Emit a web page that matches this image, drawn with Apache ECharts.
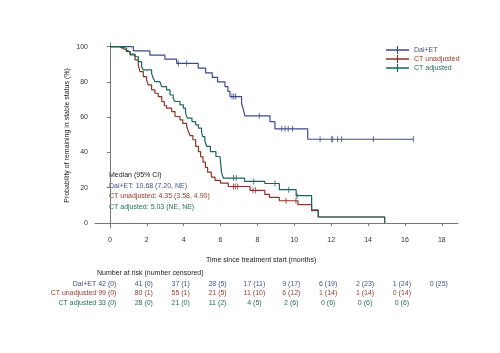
<!DOCTYPE html>
<html>
<head>
<meta charset="utf-8">
<script src="https://cdn.jsdelivr.net/npm/echarts@6/dist/echarts.min.js"></script>
<style>
  html, body { margin: 0; padding: 0; background: #fff; }
  #chart { width: 500px; height: 353px; }
</style>
</head>
<body>
<div id="chart"></div>
<script>
// Kaplan-Meier curves (time in months, % in stable status)
const seriesNames = ['Dal+ET', 'CT unadjusted', 'CT adjusted'];
const lineColors = ['#3e4b8a', '#8c3526', '#1c6457'];
const textColors = ['#44508f', '#963a2a', '#266c5f'];

const dalTimes = [0, 1.27, 2.17, 2.98, 3.62, 4.79, 5.19, 5.55, 5.84, 6.24, 6.4, 6.51, 7.14, 7.24, 7.32, 8.68, 8.95, 10.73, 16.46];
const dalSurv = [100, 97.6, 95.2, 92.9, 90.5, 87.9, 85.2, 82.6, 80.0, 77.4, 74.7, 71.7, 67.9, 64.2, 60.8, 57.5, 53.4, 47.5, 47.5];
const dalCensor = [3.71, 4.16, 6.62, 6.72, 6.82, 8.1, 9.32, 9.5, 9.67, 9.9, 11.4, 12.03, 12.08, 12.35, 12.57, 14.29, 16.46];

const ctuTimes = [0, 0.54, 0.7, 0.9, 1.09, 1.36, 1.54, 1.63, 1.81, 1.99, 2.08, 2.26, 2.44, 2.62, 2.81, 2.95, 3.07, 3.35, 3.53, 3.8, 3.95, 4.16, 4.25, 4.35, 4.5, 4.65, 4.8, 4.92, 5.05, 5.18, 5.3, 5.5, 5.7, 6.0, 6.42, 7.6, 8.4, 8.65, 9.19, 10.2, 10.94, 11.3, 14.9];
const ctuSurv = [100, 99, 98, 97.2, 95.3, 92.5, 89.6, 85.9, 83.0, 81.1, 78.3, 75.5, 73.6, 71.7, 68.9, 66.5, 65.1, 63.2, 60.4, 58.5, 56.5, 55.0, 52.0, 49.5, 47.2, 43.4, 40.5, 37.5, 34.5, 31.5, 28.8, 26.0, 24.2, 22.6, 20.7, 18.5, 16.2, 14.5, 12.6, 10.4, 7.0, 3.4, 0];
const ctuCensor = [6.7, 6.8, 6.93, 7.76, 7.9, 9.55, 10.09];

const ctaTimes = [0, 0.54, 0.9, 1.1, 1.36, 1.54, 1.72, 1.81, 2.26, 2.35, 2.44, 2.71, 2.8, 3.07, 3.26, 3.43, 3.53, 3.8, 3.98, 4.1, 4.2, 4.45, 4.65, 4.8, 4.97, 5.03, 5.15, 5.25, 5.45, 5.75, 5.97, 6.06, 6.15, 7.3, 8.4, 9.19, 10.1, 10.94, 11.3, 14.9];
const ctaSurv = [100, 99.1, 97.2, 95.8, 94.3, 91.5, 88.7, 86.8, 84.9, 82.1, 80.2, 79.3, 77.4, 75.5, 72.6, 70.8, 68.9, 67.0, 65.1, 62.3, 59.5, 57.5, 55.7, 53.8, 51.5, 49.0, 46.5, 43.4, 40.5, 37.7, 36.8, 28.3, 25.5, 23.6, 22.4, 18.9, 15.5, 7.5, 3.4, 0];
const ctaCensor = [6.7, 6.85, 7.8, 8.95, 9.7, 10.15];

const xTicks = [0, 2, 4, 6, 8, 10, 12, 14, 16, 18];
const yTicks = [0, 20, 40, 60, 80, 100];

// number at risk (number censored), one entry per x tick
const riskTimes = [0, 2, 4, 6, 8, 10, 12, 14, 16, 18];
const dalRisk = ['42 (0)', '41 (0)', '37 (1)', '28 (5)', '17 (11)', '9 (17)', '6 (19)', '2 (23)', '1 (24)', '0 (25)'];
const ctuRisk = ['99 (0)', '80 (1)', '55 (1)', '21 (5)', '11 (10)', '6 (12)', '1 (14)', '1 (14)', '0 (14)'];
const ctaRisk = ['33 (0)', '28 (0)', '21 (0)', '11 (2)', '4 (5)', '2 (6)', '0 (6)', '0 (6)', '0 (6)'];

const medianLines = ['Dal+ET: 10.68 (7.20, NE)', 'CT unadjusted: 4.35 (3.58, 4.90)', 'CT adjusted: 5.03 (NE, NE)'];

const FONT = '"Liberation Sans", Arial, sans-serif';

function zip(ts, vs) {
    return ts.map((t, i) => [t, vs[i]]);
}

// value of a step curve at time t
function stepValue(ts, vs, t) {
    let v = vs[0];
    for (let i = 0; i < ts.length; i++) {
        if (ts[i] <= t) v = vs[i];
    }
    return v;
}

const curves = [
    { times: dalTimes, surv: dalSurv, censor: dalCensor },
    { times: ctuTimes, surv: ctuSurv, censor: ctuCensor },
    { times: ctaTimes, surv: ctaSurv, censor: ctaCensor }
];

const series = [];
curves.forEach((c, i) => {
    series.push({
        name: seriesNames[i],
        type: 'line',
        step: 'end',
        data: zip(c.times, c.surv),
        showSymbol: false,
        symbol: 'none',
        color: lineColors[i],
        lineStyle: { width: 1.2, color: lineColors[i] },
        z: 2 + i,
        animation: false
    });
    series.push({
        name: seriesNames[i] + ' censored',
        type: 'scatter',
        data: c.censor.map(t => [t, stepValue(c.times, c.surv, t)]),
        symbol: 'rect',
        symbolSize: [1, 6],
        itemStyle: { color: lineColors[i] },
        z: 2 + i,
        animation: false
    });
});

const chart = echarts.init(document.getElementById('chart'));

const option = {
    animation: false,
    backgroundColor: '#fff',
    grid: { left: 95, right: 42, top: 43, bottom: 125 },
    legend: {
        orient: 'vertical',
        left: 381,
        top: 41,
        itemWidth: 23,
        itemHeight: 8,
        itemGap: 1,
        icon: 'path://M0,4h24v1.2h-24z M11.4,1h1.2v7.2h-1.2z',
        symbolKeepAspect: false,
        itemStyle: { borderWidth: 0 },
        textStyle: { fontSize: 7, fontFamily: FONT, padding: [0, 0, 0, 0] },
        data: seriesNames.map((n, i) => ({ name: n, textStyle: { color: textColors[i] } }))
    },
    xAxis: {
        type: 'value',
        min: -0.81,
        max: 18.88,
        splitLine: { show: false },
        axisLine: { lineStyle: { color: '#777', width: 1 } },
        axisTick: { show: true, length: 3, lineStyle: { color: '#777' }, customValues: xTicks },
        axisLabel: { fontSize: 7, fontFamily: FONT, color: '#333', margin: 9, customValues: xTicks }
    },
    yAxis: {
        type: 'value',
        min: -2.85,
        max: 102.1,
        splitLine: { show: false },
        axisLine: { show: true, lineStyle: { color: '#777', width: 1 } },
        axisTick: { show: true, length: 3, lineStyle: { color: '#777' }, customValues: yTicks },
        axisLabel: { fontSize: 7, fontFamily: FONT, color: '#333', margin: 7, customValues: yTicks },
        name: 'Probability of remaining in stable status (%)',
        nameLocation: 'middle',
        nameGap: 24,
        nameMoveOverlap: false,
        nameTextStyle: { fontSize: 7, fontFamily: FONT, color: '#222' }
    },
    series: series
};

chart.setOption(option);

// text blocks: median box, axis title and risk table
const graphics = [];
function addText(x, y, text, color, align) {
    graphics.push({
        type: 'text',
        x: x,
        y: y,
        style: {
            text: text,
            fill: color,
            font: '7px ' + FONT,
            textAlign: align || 'left',
            textVerticalAlign: 'middle'
        },
        silent: true
    });
}

addText(109, 175, 'Median (95% CI)', '#222');
medianLines.forEach((t, i) => addText(109, 185.7 + i * 10.5, t, textColors[i]));

addText(206, 260, 'Time since treatment start (months)', '#222');
addText(97, 273.3, 'Number at risk (number censored)', '#222');

const riskRows = [dalRisk, ctuRisk, ctaRisk];
riskRows.forEach((row, r) => {
    const y = 284 + r * 9.4;
    row.forEach((val, k) => {
        const px = chart.convertToPixel({ xAxisIndex: 0 }, riskTimes[k]);
        if (k === 0) {
            addText(px + 6.5, y, seriesNames[r] + ' ' + val, textColors[r], 'right');
        } else {
            addText(px - 3, y, val, textColors[r], 'center');
        }
    });
});

chart.setOption({ graphic: graphics });
</script>
</body>
</html>
